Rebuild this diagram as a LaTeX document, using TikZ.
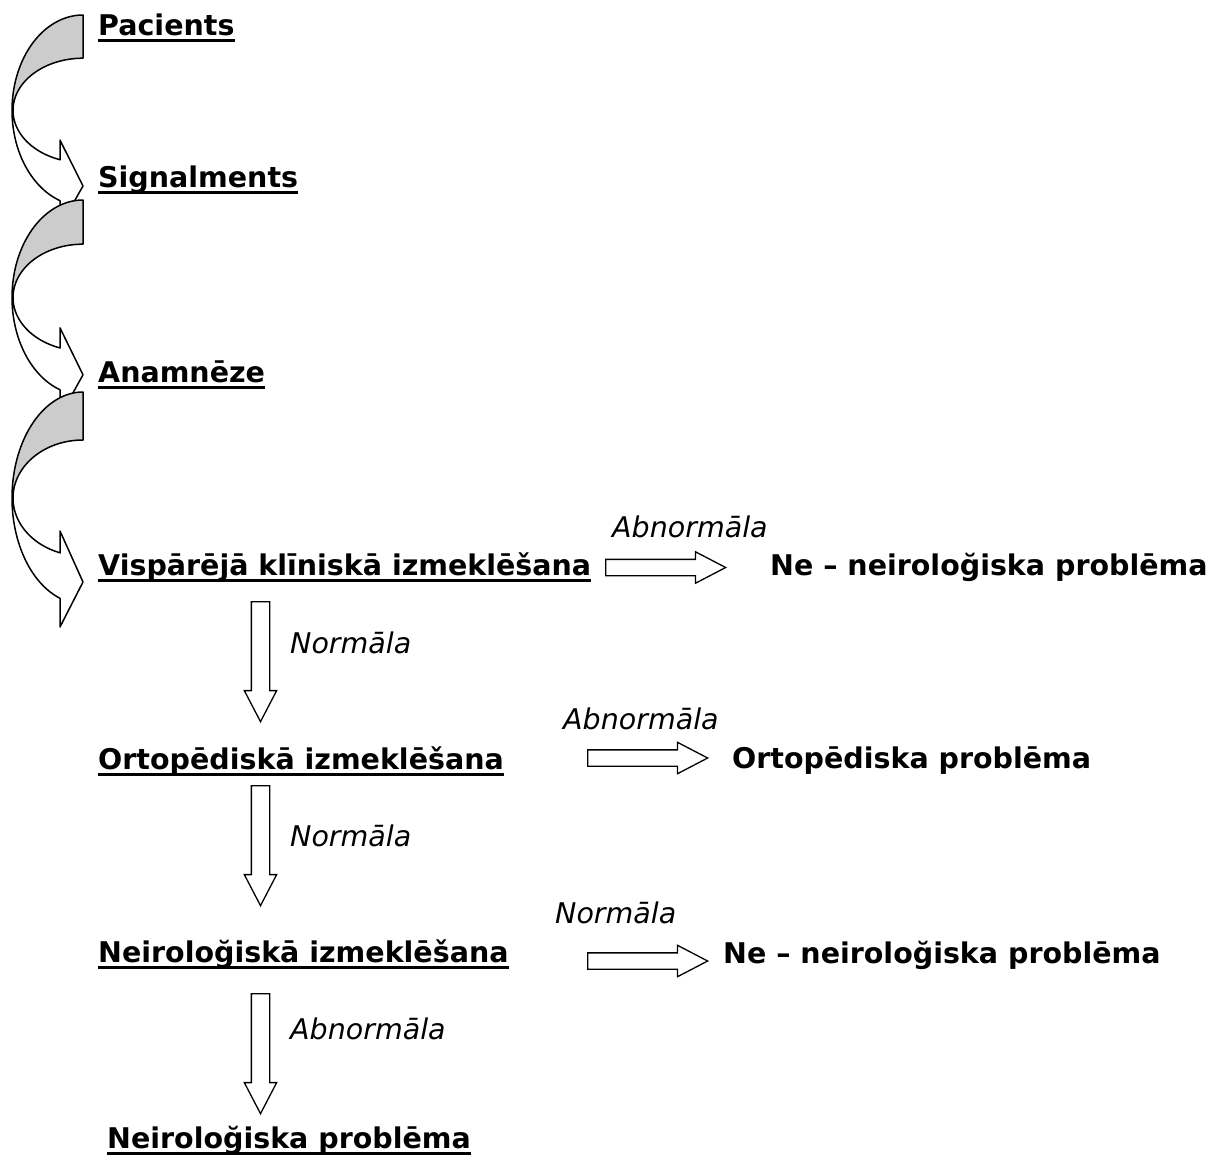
\documentclass[tikz,border=0pt]{standalone}
\usepackage{fontspec}
\setmainfont{DejaVu Sans}
\usetikzlibrary{shapes.arrows}
\tikzset{
  lbl/.style={anchor=base west, inner sep=0pt, font=\fontsize{28.5}{32}\selectfont\bfseries},
  ital/.style={anchor=base west, inner sep=0pt, font=\fontsize{28.5}{32}\selectfont\itshape},
  uline/.style={line width=3pt},
  blockarrow/.style={draw, line width=1.3pt, fill=white, single arrow,
    single arrow head extend=7.5pt, single arrow tip angle=55,
    minimum height=120pt, inner xsep=0pt, inner ysep=7.5pt, anchor=tail},
  vblockarrow/.style={blockarrow, rotate=-90, inner ysep=8.5pt, single arrow head extend=7pt},
  curlline/.style={line width=1.5pt, line join=round}
}
\newcommand\curloutline{plot[domain=270:108.9, samples=70, variable=\t] ({83+71*cos(\t)},{106+106*sin(\t)})
  -- (60,235) -- (83,190) -- (60,139) -- (60,161)
  -- plot[domain=109.2:270, samples=70, variable=\t] ({83+70*cos(\t)},{106+58*sin(\t)}) -- cycle}
\newcommand\curlgray{plot[domain=270:180, samples=50, variable=\t] ({83+71*cos(\t)},{106+106*sin(\t)})
  -- plot[domain=180:270, samples=50, variable=\t] ({83+70*cos(\t)},{106+58*sin(\t)}) -- cycle}
\newcommand\curlarrow[2]{%
  \begin{scope}[shift={(0,#1)}, yscale=#2]
    \fill[white] \curloutline;
    \fill[black!20] \curlgray;
    \draw[curlline] \curloutline;
  \end{scope}}
\begin{document}
\begin{tikzpicture}[x=1pt, y=-1pt]
\useasboundingbox (0,0) rectangle (1222,1162);

% curved arrows
\curlarrow{15}{0.9}
\curlarrow{200}{0.92}
\curlarrow{392}{1}

% main labels
\node[lbl] (pac) at (98,35) {Pacients};
\node[lbl] (sig) at (98,187) {Signalments};
\node[lbl] (ana) at (98,382) {Anamnēze};
\node[lbl] (visp) at (98,575) {Vispārējā klīniskā izmeklēšana};
\node[lbl] (orto) at (98,769) {Ortopēdiskā izmeklēšana};
\node[lbl] (neiz) at (98,962) {Neiroloğiskā izmeklēšana};
\node[lbl] (neip) at (107,1148) {Neiroloğiska problēma};

\foreach \n in {pac,sig,ana,visp,orto,neiz,neip}
  \draw[uline] ([yshift=-5pt]\n.base west) -- ([yshift=-5pt]\n.base east);

% outcomes
\node[lbl] (ne1) at (770,575) {Ne – neiroloğiska problēma};
\node[lbl] (orp) at (732,768) {Ortopēdiska problēma};
\node[lbl] (ne2) at (723,963) {Ne – neiroloğiska problēma};

% italic labels
\node[ital] (ab1) at (612,537) {Abnormāla};
\node[ital] (n1) at (290,653) {Normāla};
\node[ital] (ab2) at (563,729) {Abnormāla};
\node[ital] (n2) at (290,846) {Normāla};
\node[ital] (n3) at (555,923) {Normāla};
\node[ital] (ab3) at (290,1039) {Abnormāla};

% block arrows
\node[blockarrow] (h1) at (605,567.5) {};
\node[blockarrow] (h2) at (587,758) {};
\node[blockarrow] (h3) at (587,961) {};
\node[vblockarrow] (v1) at (260.5,601) {};
\node[vblockarrow] (v2) at (260.5,785) {};
\node[vblockarrow] (v3) at (260.5,993) {};
\end{tikzpicture}
\end{document}
